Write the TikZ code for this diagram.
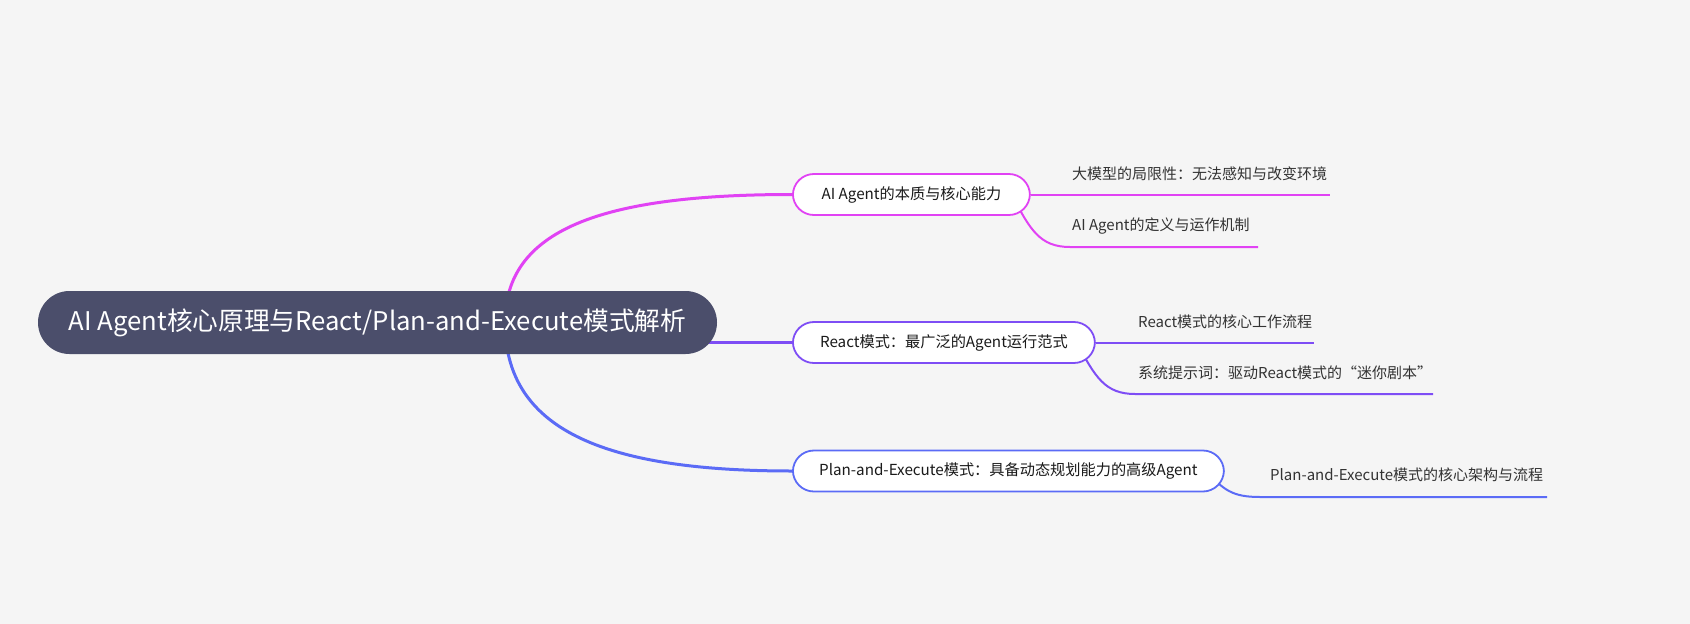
\documentclass[tikz,border=0pt]{standalone}
\usepackage{fontspec}
\setmainfont{Noto Sans CJK SC}
\usetikzlibrary{backgrounds}
\pgfdeclarelayer{bottom}
\pgfsetlayers{bottom,background,main}
\definecolor{bgc}{HTML}{F5F5F5}
\definecolor{rootc}{HTML}{4B4E6B}
\definecolor{magc}{HTML}{E142F4}
\definecolor{purc}{HTML}{7E4DF5}
\definecolor{bluc}{HTML}{5B6BF6}
\definecolor{txt}{HTML}{1A1A1A}
\definecolor{subtxt}{HTML}{333333}
\begin{document}
\begin{tikzpicture}[x=1pt,y=-1pt,
  rootbox/.style={fill=rootc, text=white, rounded corners=31.5pt, minimum height=63pt, minimum width=679pt, inner sep=0pt, font=\fontsize{25.7}{30}\selectfont},
  branch/.style={draw=#1, fill=white, line width=1.8pt, rounded corners=21pt, minimum height=41pt, inner sep=0pt, anchor=west, text=txt, font=\fontsize{15.2}{18}\selectfont},
  leaf/.style={anchor=west, inner sep=0pt, text=subtxt, font=\fontsize{15}{18}\selectfont},
  trunk/.style={draw=#1, line width=3pt},
  twig/.style={draw=#1, line width=2pt},
]
\begin{pgfonlayer}{bottom}
\fill[bgc] (0,0) rectangle (1690,624);
\end{pgfonlayer}
\useasboundingbox (0,0) rectangle (1690,624);

\node[rootbox] (root) at (377.5,322.5) {AI Agent核心原理与React/Plan-and-Execute模式解析};
\node[branch=magc, minimum width=237pt] (b1) at (792,194.5) {AI Agent的本质与核心能力};
\node[branch=purc, minimum width=302pt] (b2) at (792,342.5) {React模式：最广泛的Agent运行范式};
\node[branch=bluc, minimum width=431pt] (b3) at (792,471) {Plan-and-Execute模式：具备动态规划能力的高级Agent};

\node[leaf] (l11) at (1072,174) {大模型的局限性：无法感知与改变环境};
\node[leaf] (l12) at (1072,226) {AI Agent的定义与运作机制};
\node[leaf] (l21) at (1138,322) {React模式的核心工作流程};
\node[leaf] (l22) at (1138,373) {系统提示词：驱动React模式的“迷你剧本”};
\node[leaf] (l31) at (1270,475) {Plan-and-Execute模式的核心架构与流程};

\coordinate (rs) at (505,322.5);
\coordinate (u11) at (1330,194.5);
\coordinate (u12) at (1258,247);
\coordinate (u21) at (1314,342.5);
\coordinate (u22) at (1433,394);
\coordinate (u31) at (1547,497);

\begin{scope}[on background layer]
\draw[trunk=magc] (rs) .. controls (505,230) and (600,194.5) .. (b1.west);
\draw[trunk=purc] (rs |- b2.west) -- (b2.west);
\draw[trunk=bluc] (rs) .. controls (505,428) and (600,471) .. (b3.west);

\draw[twig=magc] (b1.east) -- (u11);
\draw[twig=magc] ([xshift=-19pt]b1.east) .. controls (1030,230) and (1040,247) .. (1070,247) -- (u12);
\draw[twig=purc] (b2.east) -- (u21);
\draw[twig=purc] ([xshift=-19pt]b2.east) .. controls (1095,377) and (1105,394) .. (1135,394) -- (u22);
\draw[twig=bluc] ([xshift=-19pt]b3.east) .. controls (1224,490) and (1232,497) .. (1260,497) -- (u31);
\end{scope}
\end{tikzpicture}
\end{document}
